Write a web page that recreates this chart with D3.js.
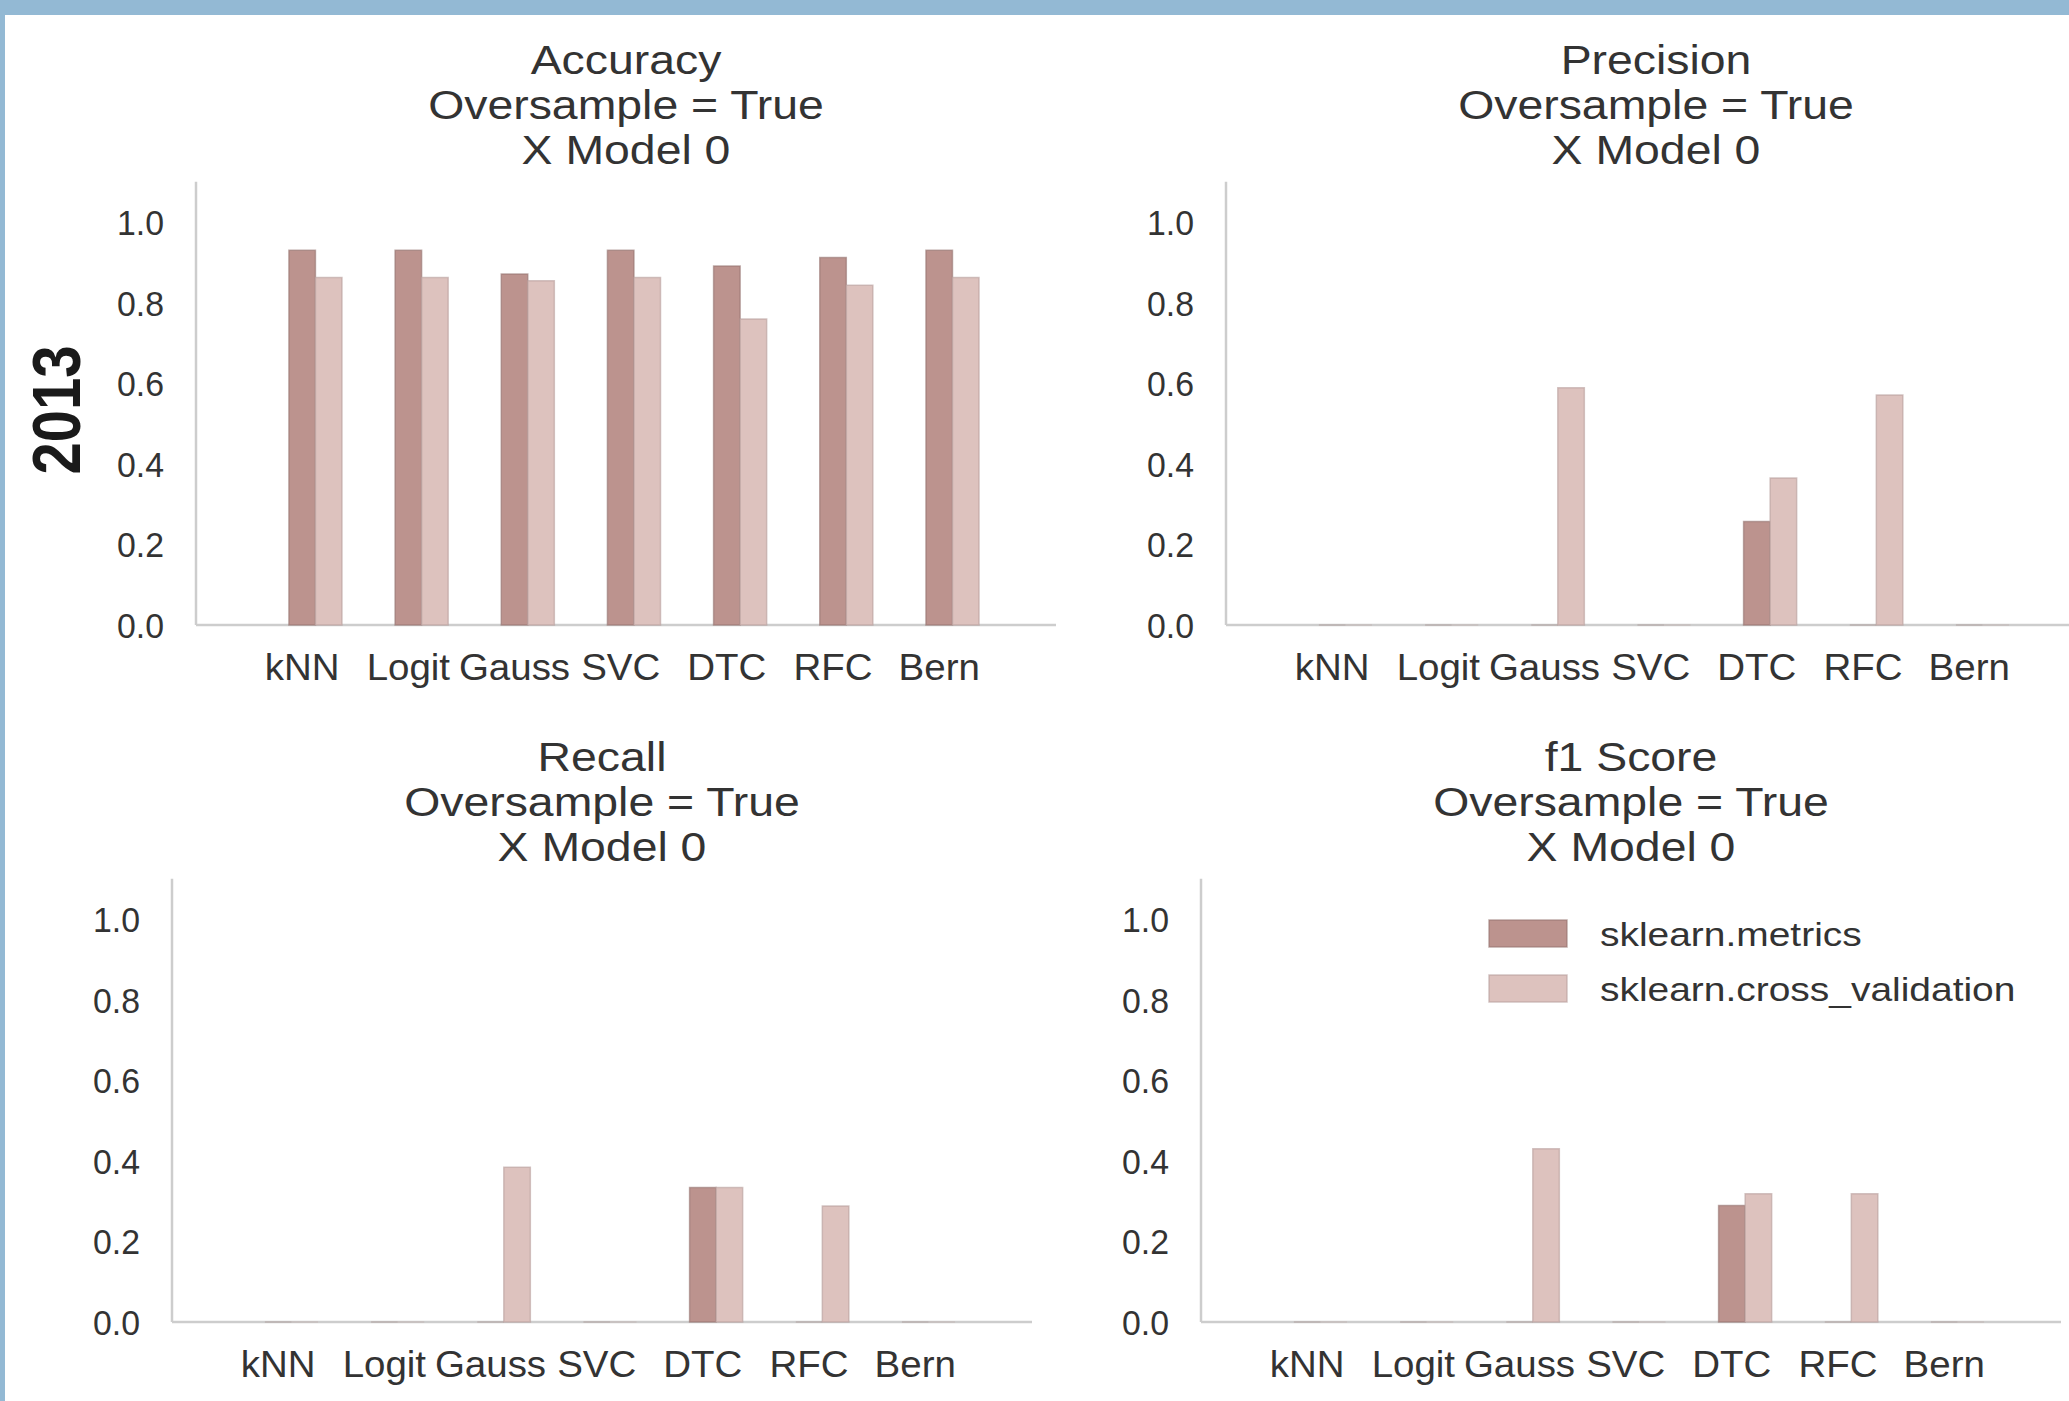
<!DOCTYPE html>
<html>
<head>
<meta charset="utf-8">
<script src="https://cdn.jsdelivr.net/npm/d3@7"></script>
<style>
  html, body { margin: 0; padding: 0; background: #ffffff; }
  svg { display: block; }
  text { font-family: "Liberation Sans", Arial, sans-serif; fill: #333333; }
</style>
</head>
<body>
<script>
// ---------------- data ----------------
const categories = ["kNN", "Logit", "Gauss", "SVC", "DTC", "RFC", "Bern"];
const seriesNames = ["sklearn.metrics", "sklearn.cross_validation"];
const yTicks = [0.0, 0.2, 0.4, 0.6, 0.8, 1.0];
const rowLabel = "2013";
const subtitle1 = "Oversample = True";
const subtitle2 = "X Model 0";

const accuracyMetrics = [0.930, 0.930, 0.871, 0.930, 0.891, 0.912, 0.930];
const accuracyCV      = [0.862, 0.862, 0.854, 0.862, 0.759, 0.843, 0.862];
const precisionMetrics = [0, 0, 0, 0, 0.257, 0, 0];
const precisionCV      = [0, 0, 0.589, 0, 0.365, 0.571, 0];
const recallMetrics = [0, 0, 0, 0, 0.334, 0, 0];
const recallCV      = [0, 0, 0.384, 0, 0.334, 0.288, 0];
const f1Metrics = [0, 0, 0, 0, 0.289, 0, 0];
const f1CV      = [0, 0, 0.430, 0, 0.318, 0.318, 0];

const panels = [
  { title: "Accuracy",  metrics: accuracyMetrics,  cv: accuracyCV,  left: 196,  base: 625 },
  { title: "Precision", metrics: precisionMetrics, cv: precisionCV, left: 1226, base: 625 },
  { title: "Recall",    metrics: recallMetrics,    cv: recallCV,    left: 172,  base: 1322 },
  { title: "f1 Score",  metrics: f1Metrics,        cv: f1CV,        left: 1201, base: 1322, legend: true }
];

// ---------------- style ----------------
const W = 2069, H = 1401;
const AXIS_W = 860, UNIT_H = 403;
const COL_DARK = "#bc938e", COL_DARK_EDGE = "#94736f";
const COL_LIGHT = "#ddc2be", COL_LIGHT_EDGE = "#b89f9c";
const SPINE = "#cdcdcd";
const BORDER = "#93b9d4";

const svg = d3.select("body").append("svg").attr("width", W).attr("height", H);
svg.append("rect").attr("width", W).attr("height", H).attr("fill", "#ffffff");

function sText(g, x, y, str, opts) {
  const sx = opts.sx || 1;
  const t = g.append("text")
    .attr("transform", `translate(${x},${y}) scale(${sx},1)` + (opts.rotate ? ` rotate(${opts.rotate})` : ""))
    .attr("text-anchor", opts.anchor || "middle")
    .attr("font-size", opts.size)
    .text(str);
  if (opts.weight) t.attr("font-weight", opts.weight);
  if (opts.dy) t.attr("dy", opts.dy);
  return t;
}

function barPath(x0, x1, y0, y1) {
  return `M${x0},${y0}H${x1}V${y1}H${x0}Z`;
}

panels.forEach(p => {
  const g = svg.append("g");
  const x = d3.scaleLinear().domain([-1, 7.1]).range([p.left, p.left + AXIS_W]);
  const y = d3.scaleLinear().domain([0, 1.1]).range([p.base, p.base - 1.1 * UNIT_H]);

  // spines
  g.append("line").attr("x1", x(-1)).attr("x2", x(-1)).attr("y1", y(0)).attr("y2", y(1.1))
    .attr("stroke", SPINE).attr("stroke-width", 2.5);
  g.append("line").attr("x1", x(-1)).attr("x2", x(7.1)).attr("y1", y(0)).attr("y2", y(0))
    .attr("stroke", SPINE).attr("stroke-width", 2.5);

  // bars
  const idx = d3.range(categories.length);
  g.selectAll("path.dark").data(idx).enter().append("path")
    .attr("d", i => barPath(x(i - 0.125), x(i + 0.125), y(0), y(p.metrics[i])))
    .attr("fill", COL_DARK).attr("stroke", COL_DARK_EDGE).attr("stroke-width", 1.5)
    .attr("stroke-opacity", i => p.metrics[i] === 0 ? 0.3 : 0.6);
  g.selectAll("path.light").data(idx).enter().append("path")
    .attr("d", i => barPath(x(i + 0.125), x(i + 0.375), y(0), y(p.cv[i])))
    .attr("fill", COL_LIGHT).attr("stroke", COL_LIGHT_EDGE).attr("stroke-width", 1.5)
    .attr("stroke-opacity", i => p.cv[i] === 0 ? 0.3 : 0.6);

  // y tick labels
  yTicks.forEach(v => {
    sText(g, x(-1) - 32, y(v), d3.format(".1f")(v), { size: 36, sx: 0.94, anchor: "end", dy: "0.36em" });
  });
  // x tick labels
  categories.forEach((c, i) => {
    sText(g, x(i), y(0) + 55, c, { size: 37, sx: 1.04 });
  });

  // title
  const cx = (x(-1) + x(7.1)) / 2;
  const top = y(1.1);
  [p.title, subtitle1, subtitle2].forEach((line, k) => {
    sText(g, cx, top - 108 + k * 45, line, { size: 40, sx: 1.16 });
  });

  // legend
  if (p.legend) {
    const lg = g.append("g");
    const items = [{ name: seriesNames[0], fill: COL_DARK, stroke: COL_DARK_EDGE, y: 920 },
                   { name: seriesNames[1], fill: COL_LIGHT, stroke: COL_LIGHT_EDGE, y: 975 }];
    items.forEach(it => {
      lg.append("rect").attr("x", 1489).attr("y", it.y).attr("width", 78).attr("height", 27)
        .attr("fill", it.fill).attr("stroke", it.stroke).attr("stroke-width", 1.5).attr("stroke-opacity", 0.6);
      sText(lg, 1600, it.y + 14, it.name, { size: 33, sx: 1.18, anchor: "start", dy: "0.36em" });
    });
  }
});

// row label
sText(svg, 80, 410, rowLabel, { size: 58, sx: 1.18, rotate: -90, weight: "bold" }).style("fill", "#1a1a1a");

// frame border (blue)
svg.append("rect").attr("x", 0).attr("y", 0).attr("width", W).attr("height", 15).attr("fill", BORDER);
svg.append("rect").attr("x", 0).attr("y", 0).attr("width", 5).attr("height", H).attr("fill", BORDER);
</script>
</body>
</html>
